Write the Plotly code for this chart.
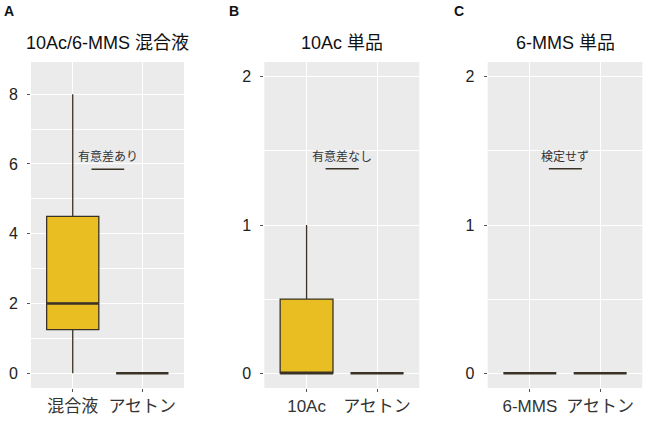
import plotly.graph_objects as go
from plotly.subplots import make_subplots

# panel data
panel_letters = ["A", "B", "C"]
panel_titles = ["10Ac/6-MMS 混合液", "10Ac 単品", "6-MMS 単品"]
categories = [["混合液", "アセトン"], ["10Ac", "アセトン"], ["6-MMS", "アセトン"]]
q1 = [[1.25, 0], [0, 0], [0, 0]]
median = [[2.0, 0], [0, 0], [0, 0]]
q3 = [[4.5, 0], [0.5, 0], [0, 0]]
lower = [[0, 0], [0, 0], [0, 0]]
upper = [[8, 0], [1, 0], [0, 0]]
sig_labels = ["有意差あり", "有意差なし", "検定せず"]
sig_y = [5.85, 1.38, 1.38]
y_ranges = [[-0.425, 8.925], [-0.1, 2.1], [-0.1, 2.1]]
y_dticks = [2, 1, 1]

FONT = "Liberation Sans, Arial, Noto Sans CJK JP"
BOX_FILL = "#E8BE22"
OUTLINE = "#3A3226"
BOX_W = 0.75

W, H = 649, 421
x_dom = [[31, 184], [264.3, 419.3], [487.7, 642.3]]
y_dom = [1 - 388 / H, 1 - 62 / H]

fig = make_subplots(rows=1, cols=3)

for i in range(3):
    fig.add_trace(go.Box(
        x=categories[i],
        q1=q1[i], median=median[i], q3=q3[i],
        lowerfence=lower[i], upperfence=upper[i],
        fillcolor=BOX_FILL,
        line=dict(color=OUTLINE, width=1.3),
        whiskerwidth=0,
        width=BOX_W,
        boxpoints=False,
        showlegend=False,
        hoverinfo="skip",
    ), row=1, col=1 + i)

    xa = "x" if i == 0 else "x%d" % (i + 1)
    ya = "y" if i == 0 else "y%d" % (i + 1)

    # thicker median bar like ggplot
    for j, m in enumerate(median[i]):
        fig.add_shape(type="line", xref=xa, yref=ya,
                      x0=j - BOX_W / 2, x1=j + BOX_W / 2, y0=m, y1=m,
                      line=dict(color=OUTLINE, width=2.6))

    # significance bar + label
    fig.add_shape(type="line", xref=xa, yref=ya,
                  x0=0.27, x1=0.74, y0=sig_y[i], y1=sig_y[i],
                  line=dict(color=OUTLINE, width=1.6))
    fig.add_annotation(xref=xa, yref=ya, x=0.5, y=sig_y[i],
                       text=sig_labels[i], showarrow=False,
                       yanchor="bottom", yshift=3,
                       font=dict(family=FONT, size=12, color="#333333"))

    d0, d1 = x_dom[i]
    fig.update_xaxes(domain=[d0 / W, d1 / W], range=[-0.6, 1.6],
                     automargin=False,
                     showgrid=True, gridcolor="white", gridwidth=1.2,
                     ticks="outside", ticklen=3, tickcolor="#555555",
                     tickfont=dict(family=FONT, size=17, color="#333333"),
                     zeroline=False, showline=False, fixedrange=True,
                     row=1, col=1 + i)
    fig.update_yaxes(domain=y_dom, range=y_ranges[i], dtick=y_dticks[i],
                     automargin=False,
                     showgrid=True, gridcolor="white", gridwidth=1.2,
                     minor=dict(dtick=y_dticks[i] / 2, showgrid=True,
                                gridcolor="white", gridwidth=0.6),
                     ticks="outside", ticklen=3, tickcolor="#555555",
                     ticklabelstandoff=6,
                     tickfont=dict(family=FONT, size=16, color="#222222"),
                     zeroline=False, showline=False, fixedrange=True,
                     row=1, col=1 + i)

    # panel title and letter
    fig.add_annotation(xref="paper", yref="paper", x=(d0 + d1) / 2 / W,
                       y=1 - 43 / H, text=panel_titles[i], showarrow=False,
                       xanchor="center", yanchor="middle",
                       font=dict(family=FONT, size=18, color="#111111"))
    letter_x = [2, 227, 452][i]
    fig.add_annotation(xref="paper", yref="paper", x=letter_x / W,
                       y=1 - 11 / H, text="<b>%s</b>" % panel_letters[i],
                       showarrow=False, xanchor="left", yanchor="middle",
                       font=dict(family=FONT, size=14, color="#111111"))

fig.update_layout(
    width=W, height=H,
    margin=dict(l=0, r=0, t=0, b=0),
    paper_bgcolor="white",
    plot_bgcolor="#EBEBEB",
    font=dict(family=FONT),
)

# drop the browser's default 8px body margin so the figure sits at 0,0
fig.write_html("out.html", config=dict(displayModeBar=False),
               post_script="document.body.style.margin='0';")
